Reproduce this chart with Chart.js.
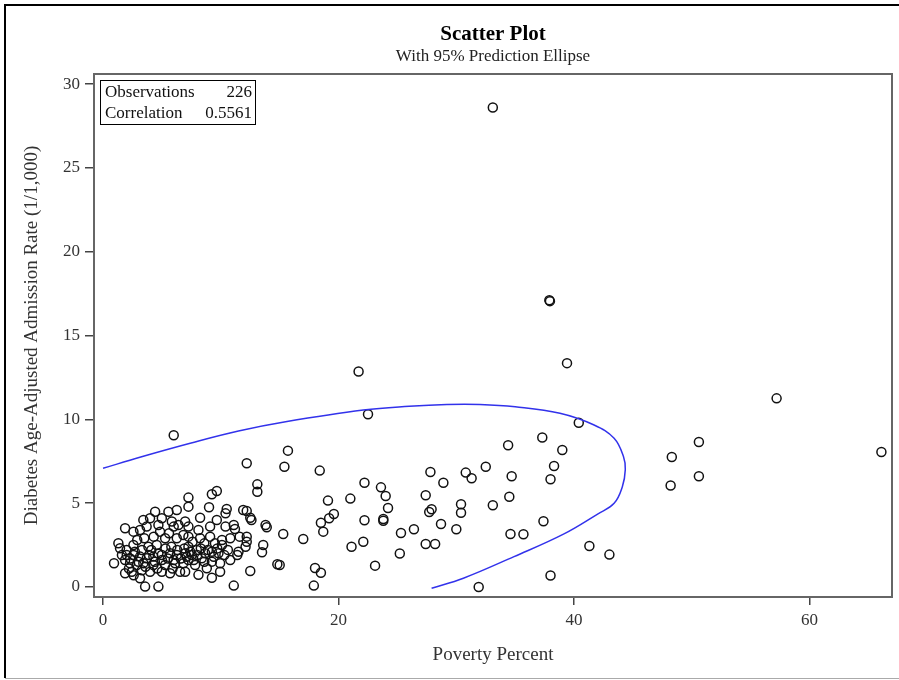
<!DOCTYPE html>
<html>
<head>
<meta charset="utf-8">
<script src="https://cdn.jsdelivr.net/npm/chart.js@4/dist/chart.umd.min.js"></script>
<style>
html, body { margin: 0; padding: 0; background: #fff; }
#wrap { position: relative; width: 899px; height: 680px; }
</style>
</head>
<body>
<div id="wrap"><canvas id="chart-scatter" width="899" height="680"></canvas></div>
<script>
// values
const povertyPct = [
    33.1, 37.9, 37.95, 39.4, 21.7, 57.2, 66.1, 50.6, 48.3, 48.2, 50.6, 6.0, 22.5, 40.4,
    15.7, 15.4, 18.4, 34.4, 37.3, 39.0, 38.3, 38.0, 32.5, 30.8, 31.3, 34.7, 27.8, 28.9,
    22.2, 23.6, 24.0, 24.2, 27.4, 27.9, 27.7, 30.4, 30.4, 33.1, 34.5, 19.1, 21.0, 19.6,
    19.2, 18.5, 18.7, 22.2, 23.8, 23.8, 25.3, 26.4, 28.7, 30.0, 37.4, 34.6, 35.7, 41.3,
    43.0, 38.0, 31.9, 15.3, 17.0, 21.1, 22.1, 27.4, 28.2, 25.2, 23.1, 15.0, 18.0, 18.5,
    17.9,
    13.1, 13.1, 9.66, 9.24, 7.25, 7.25, 9.0, 10.5, 10.4, 11.9, 12.2, 12.5, 12.6, 13.8,
    13.9, 8.24, 9.66, 11.1, 11.2, 9.09, 10.4, 8.1, 7.25, 9.09, 8.24, 10.1, 10.1, 12.2,
    12.2, 12.1, 11.5, 11.4, 13.6, 13.5, 10.6, 9.8, 9.24, 8.67, 7.96, 7.54, 7.25, 7.25,
    8.38, 9.24, 9.94, 9.94, 8.81, 7.82, 8.1, 9.24, 11.1, 12.5, 14.8, 6.97, 12.2,
    0.93, 1.87, 2.58, 3.14, 3.42, 3.99, 4.42, 4.99, 5.55, 6.26, 5.84, 1.3, 1.44, 2.58,
    2.01, 1.87, 2.44, 3.14, 3.57, 4.7, 3.99, 4.99, 5.69, 6.54, 4.84, 5.27, 6.26, 6.82,
    6.4, 6.97, 2.58, 3.14, 3.71, 4.27, 4.99, 5.69, 6.26, 6.97, 2.29, 2.86, 3.42, 4.27,
    5.27, 6.12, 6.82, 3.85, 4.56, 1.87, 7.25,
    2.0, 2.3, 2.7, 3.0, 3.3, 3.6, 3.9, 4.1, 4.4, 4.7, 5.0, 5.3, 5.5, 5.8, 6.0, 6.3,
    6.6, 6.9, 7.1, 7.4, 7.7, 8.0, 8.3, 8.6, 8.9, 9.4, 9.7, 10.3, 10.8, 2.2, 2.6, 3.3,
    4.6, 5.9, 1.6, 2.9, 3.5, 4.3, 5.6, 6.0, 4.7, 3.7, 7.6, 8.6, 9.5, 10.8, 11.6
];
const admitRate = [
    28.6, 17.1, 17.05, 13.35, 12.85, 11.25, 8.05, 8.65, 7.75, 6.05, 6.6, 9.05, 10.3, 9.8,
    8.13, 7.17, 6.94, 8.45, 8.92, 8.17, 7.22, 6.42, 7.17, 6.82, 6.48, 6.6, 6.86, 6.22,
    6.22, 5.94, 5.43, 4.71, 5.47, 4.63, 4.47, 4.93, 4.43, 4.87, 5.38, 5.15, 5.27, 4.35,
    4.1, 3.83, 3.3, 3.98, 4.05, 3.95, 3.22, 3.44, 3.76, 3.44, 3.92, 3.16, 3.14, 2.44,
    1.93, 0.68, 0.0, 3.16, 2.86, 2.4, 2.7, 2.56, 2.56, 1.99, 1.27, 1.31, 1.13, 0.85,
    0.08,
    6.12, 5.68, 5.72, 5.53, 5.33, 4.79, 4.75, 4.65, 4.39, 4.59, 4.53, 4.13, 3.99, 3.7,
    3.56, 4.13, 3.99, 3.7, 3.46, 3.6, 3.6, 3.4, 3.6, 3.0, 2.9, 2.8, 2.5, 3.0,
    2.7, 2.4, 2.1, 1.91, 2.5, 2.07, 2.21, 2.01, 2.1, 2.01, 2.21, 1.91, 2.4, 3.0,
    1.71, 1.51, 1.41, 0.91, 1.12, 1.31, 0.72, 0.55, 0.08, 0.95, 1.35, 0.91, 7.38,
    1.41, 3.5, 3.3, 3.4, 4.0, 4.1, 4.49, 4.1, 4.49, 4.59, 3.9, 2.61, 2.31, 2.5,
    1.91, 0.82, 0.91, 0.52, 0.02, 0.02, 0.91, 0.91, 0.82, 0.91, 3.3, 2.9, 2.9, 3.1,
    3.7, 3.9, 1.91, 1.81, 1.71, 1.81, 1.91, 2.01, 1.91, 2.01, 1.41, 1.31, 1.41, 1.31,
    1.31, 1.41, 1.41, 2.4, 2.5, 1.61, 1.61,
    2.2, 1.7, 2.1, 1.5, 2.2, 1.2, 1.9, 2.2, 1.5, 2.0, 1.6, 2.3, 1.7, 2.4, 1.6, 2.2,
    1.7, 2.3, 1.8, 2.1, 1.6, 1.9, 2.3, 1.5, 2.2, 1.8, 2.3, 1.9, 1.6, 1.1, 0.7, 1.0,
    1.1, 1.1, 1.9, 2.8, 2.9, 3.0, 3.2, 3.6, 3.7, 3.6, 2.7, 2.6, 2.6, 2.9, 3.0
];

// 95% prediction ellipse
const ellipseX = [0, 3.2, 7.4, 11.5, 15.5, 22.1, 26.0, 29.2, 32.0, 35.0, 38.8, 41.7, 43.4, 44.2, 44.35, 44.1, 43.4, 42.0, 39.1, 34.9, 30.6, 27.9];
const ellipseY = [7.08, 7.75, 8.57, 9.3, 9.85, 10.55, 10.78, 10.89, 10.89, 10.75, 10.36, 9.66, 8.87, 7.77, 7.0, 5.98, 4.99, 4.35, 3.15, 1.81, 0.52, -0.08];

const xTicks = [0, 20, 40, 60];
const yTicks = [0, 5, 10, 15, 20, 25, 30];

const statLabels = ['Observations', 'Correlation'];
const statValues = ['226', '0.5561'];

const chartTitle = 'Scatter Plot';
const chartSubtitle = 'With 95% Prediction Ellipse';

const serif = '"Liberation Serif", "DejaVu Serif", serif';

const points = povertyPct.map((x, i) => ({x: x, y: admitRate[i]}));
const ellipse = ellipseX.map((x, i) => ({x: x, y: ellipseY[i]}));

// frame, titles and the stats inset
const decor = {
    id: 'decor',
    beforeDraw(chart) {
        const ctx = chart.ctx;
        ctx.save();
        ctx.fillStyle = '#fff';
        ctx.fillRect(0, 0, chart.width, chart.height);
        ctx.strokeStyle = '#000';
        ctx.lineWidth = 2;
        ctx.beginPath();
        ctx.moveTo(chart.width, 5);
        ctx.lineTo(5, 5);
        ctx.lineTo(5, 678);
        ctx.stroke();
        ctx.strokeStyle = '#aaa';
        ctx.lineWidth = 1;
        ctx.beginPath();
        ctx.moveTo(5, 678.5);
        ctx.lineTo(chart.width, 678.5);
        ctx.stroke();
        ctx.restore();
    },
    afterDraw(chart) {
        const ctx = chart.ctx;
        const a = chart.chartArea;
        const cx = (a.left + a.right) / 2;
        ctx.save();
        ctx.strokeStyle = '#666';
        ctx.lineWidth = 2;
        ctx.strokeRect(a.left, a.top, a.right - a.left, a.bottom - a.top);

        ctx.fillStyle = '#000';
        ctx.textAlign = 'center';
        ctx.textBaseline = 'middle';
        ctx.font = 'bold 21px ' + serif;
        ctx.fillText(chartTitle, cx, 35);
        ctx.fillStyle = '#222';
        ctx.font = '17px ' + serif;
        ctx.fillText(chartSubtitle, cx, 57);

        // stats box
        const bx = a.left + 6, by = a.top + 6, bw = 155, bh = 44;
        ctx.strokeStyle = '#000';
        ctx.lineWidth = 1;
        ctx.strokeRect(bx + 0.5, by + 0.5, bw, bh);
        ctx.font = '17px ' + serif;
        ctx.fillStyle = '#111';
        for (let i = 0; i < statLabels.length; i++) {
            const ty = by + 13 + i * 21;
            ctx.textAlign = 'left';
            ctx.fillText(statLabels[i], bx + 5, ty);
            ctx.textAlign = 'right';
            ctx.fillText(statValues[i], bx + bw - 3, ty);
        }
        ctx.restore();
    }
};

new Chart(document.getElementById('chart-scatter').getContext('2d'), {
    type: 'scatter',
    data: {
        datasets: [
            {
                label: 'Ellipse',
                data: ellipse,
                showLine: true,
                borderColor: 'rgb(50, 50, 235)',
                borderWidth: 1.5,
                pointRadius: 0,
                tension: 0.4,
                fill: false
            },
            {
                label: 'Observations',
                data: points,
                pointStyle: 'circle',
                pointRadius: 4.5,
                borderColor: '#111',
                borderWidth: 1.5,
                backgroundColor: 'rgba(0,0,0,0)'
            }
        ]
    },
    options: {
        responsive: false,
        animation: false,
        layout: { padding: { top: 74, right: 7, left: 0, bottom: 0 } },
        plugins: {
            legend: { display: false },
            tooltip: { enabled: false }
        },
        scales: {
            x: {
                type: 'linear',
                min: -0.77,
                max: 67.0,
                afterBuildTicks: s => { s.ticks = xTicks.map(v => ({value: v})); },
                afterFit: s => { s.height = 83; },
                grid: { display: true, drawOnChartArea: false, drawTicks: true, tickLength: 8, color: '#444', lineWidth: 1.5 },
                border: { display: true, color: '#666', width: 2 },
                ticks: { padding: 5, color: '#333', font: { family: serif, size: 17 } },
                title: { display: true, text: 'Poverty Percent', color: '#333', font: { family: serif, size: 19 }, padding: { top: 0, bottom: 14 } }
            },
            y: {
                type: 'linear',
                min: -0.6,
                max: 30.6,
                afterBuildTicks: s => { s.ticks = yTicks.map(v => ({value: v})); },
                afterFit: s => { s.width = 94; },
                grid: { display: true, drawOnChartArea: false, drawTicks: true, tickLength: 9, color: '#444', lineWidth: 1.5 },
                border: { display: true, color: '#666', width: 2 },
                ticks: { padding: 5, color: '#333', font: { family: serif, size: 17 } },
                title: { display: true, text: 'Diabetes Age-Adjusted Admission Rate (1/1,000)', color: '#333', font: { family: serif, size: 19 }, padding: { top: 21, bottom: 0 } }
            }
        }
    },
    plugins: [decor]
});
</script>
</body>
</html>
